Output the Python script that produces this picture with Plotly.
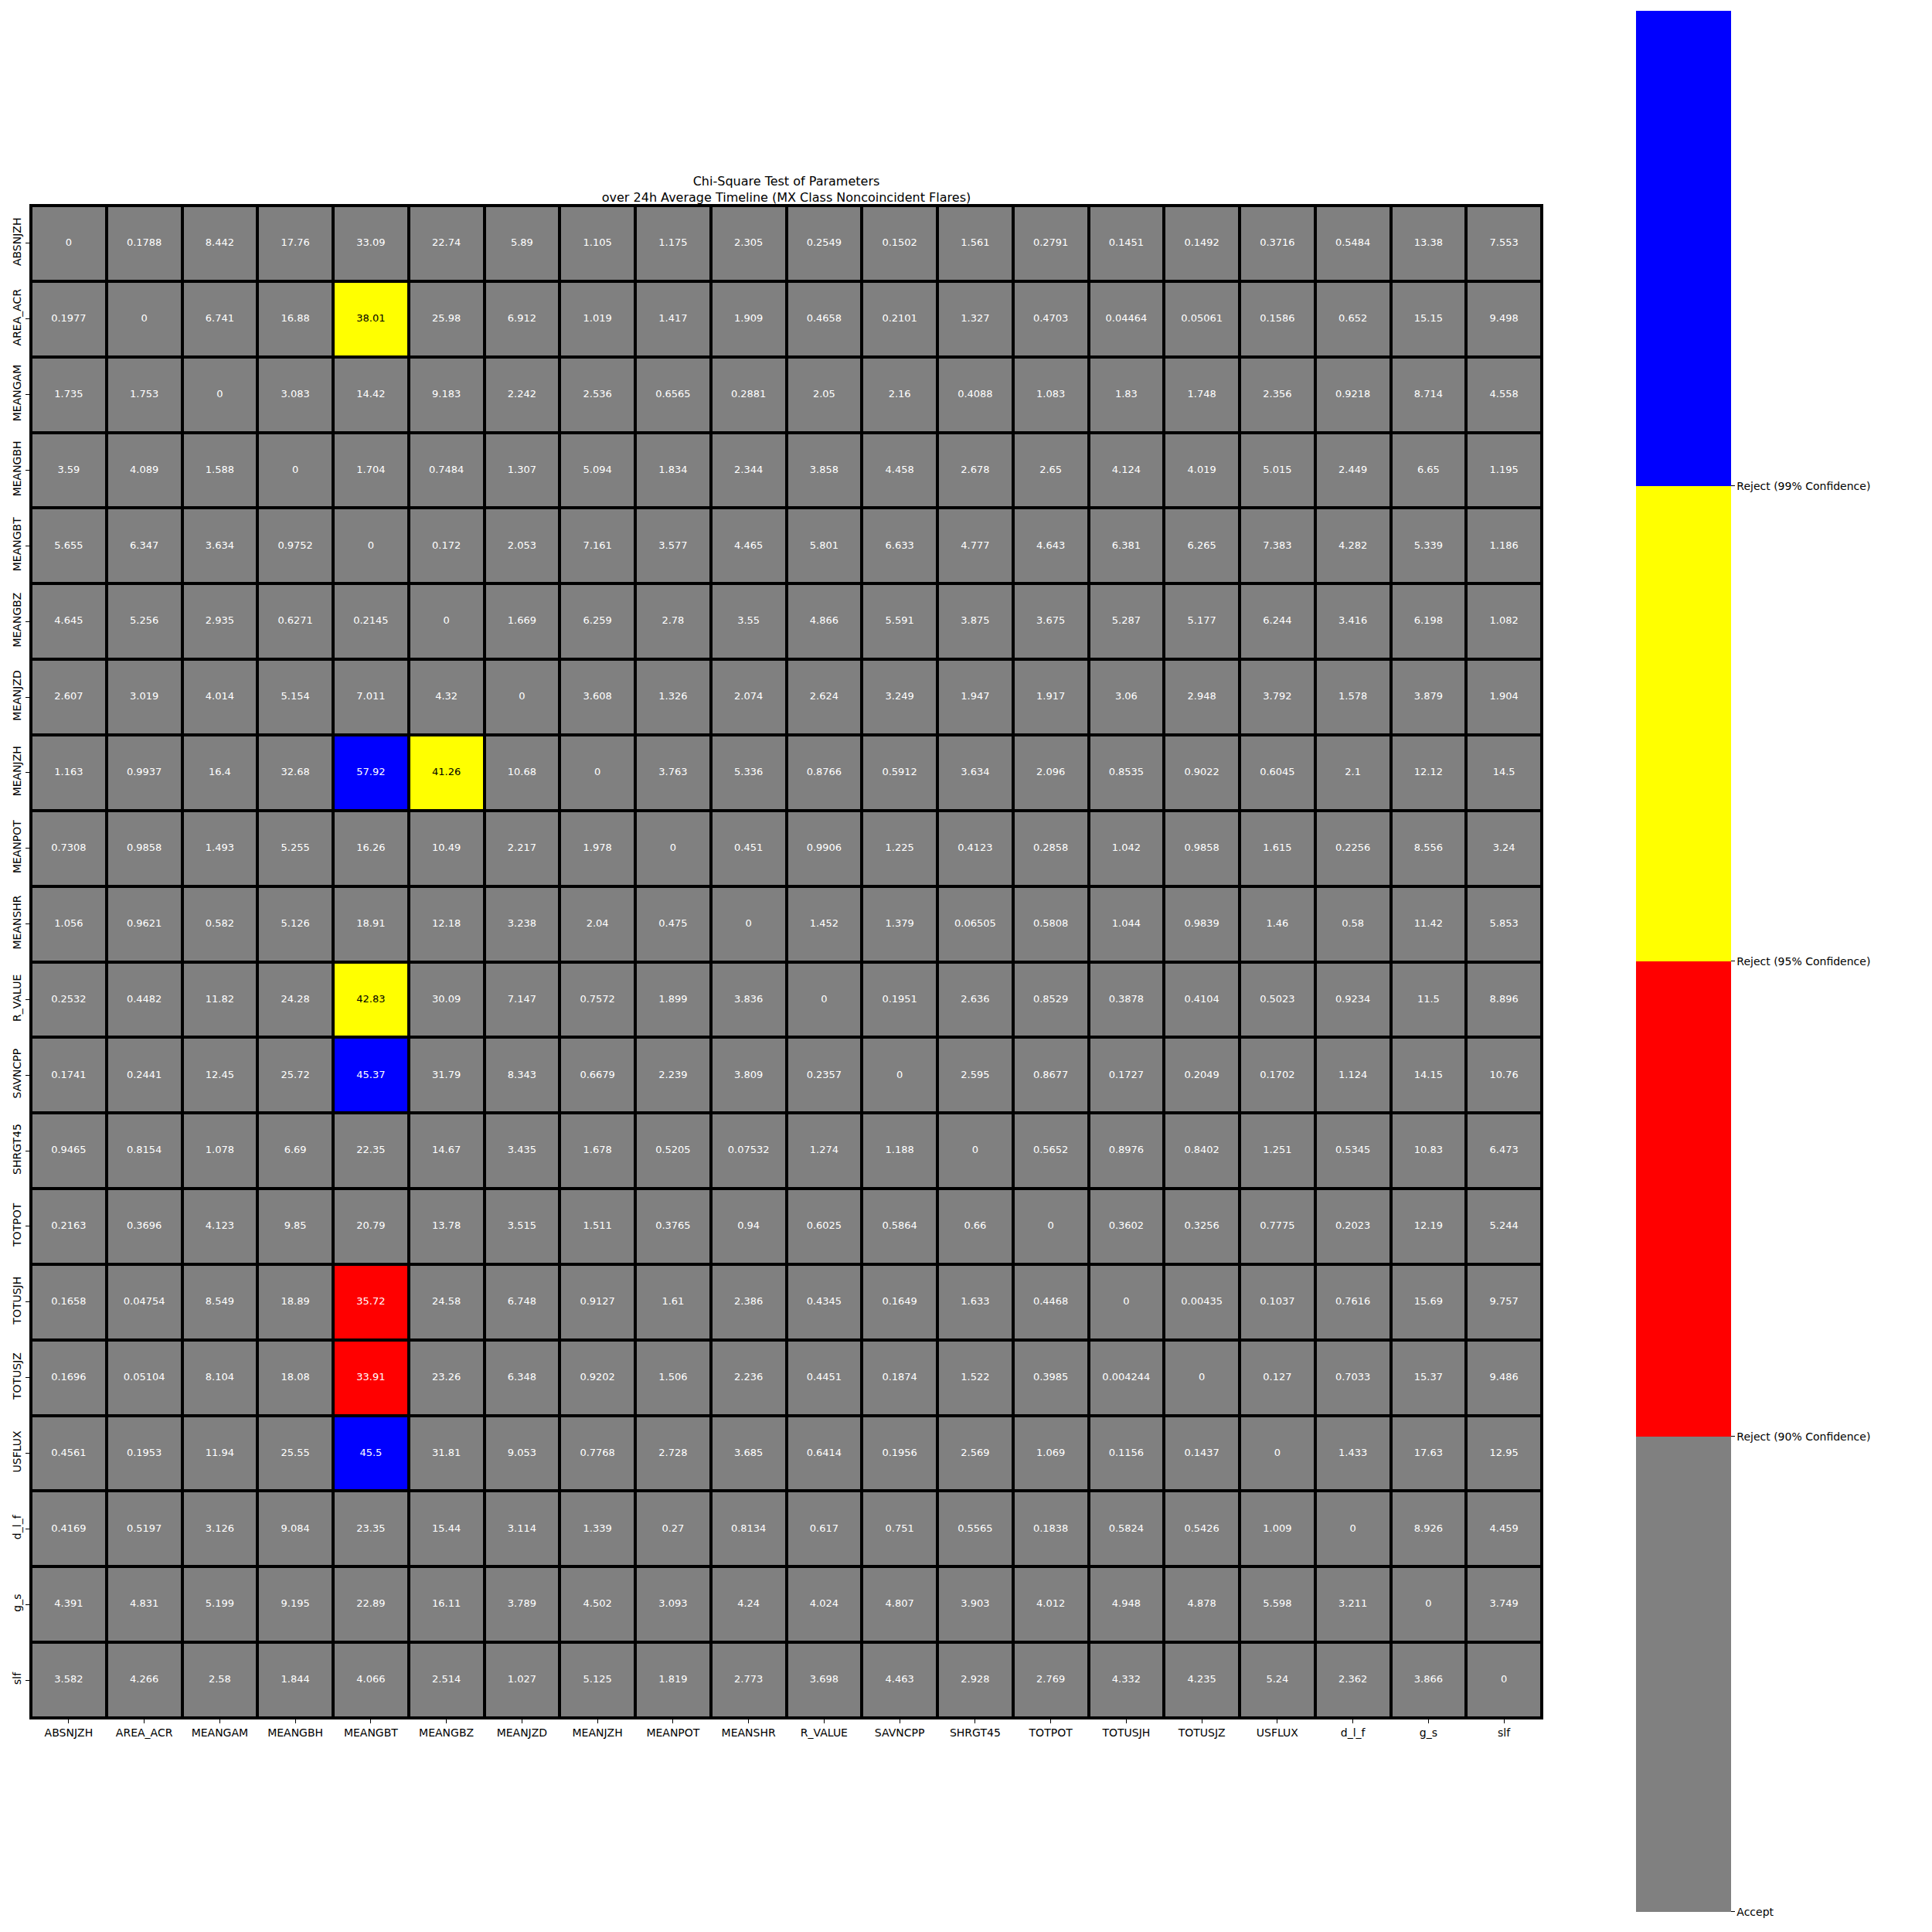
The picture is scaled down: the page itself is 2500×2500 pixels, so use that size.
import plotly.graph_objects as go

params = ["ABSNJZH", "AREA_ACR", "MEANGAM", "MEANGBH", "MEANGBT", "MEANGBZ", "MEANJZD",
          "MEANJZH", "MEANPOT", "MEANSHR", "R_VALUE", "SAVNCPP", "SHRGT45", "TOTPOT",
          "TOTUSJH", "TOTUSJZ", "USFLUX", "d_l_f", "g_s", "slf"]

row_ABSNJZH = [0, 0.1788, 8.442, 17.76, 33.09, 22.74, 5.89, 1.105, 1.175, 2.305, 0.2549, 0.1502, 1.561, 0.2791, 0.1451, 0.1492, 0.3716, 0.5484, 13.38, 7.553]
row_AREA_ACR = [0.1977, 0, 6.741, 16.88, 38.01, 25.98, 6.912, 1.019, 1.417, 1.909, 0.4658, 0.2101, 1.327, 0.4703, 0.04464, 0.05061, 0.1586, 0.652, 15.15, 9.498]
row_MEANGAM = [1.735, 1.753, 0, 3.083, 14.42, 9.183, 2.242, 2.536, 0.6565, 0.2881, 2.05, 2.16, 0.4088, 1.083, 1.83, 1.748, 2.356, 0.9218, 8.714, 4.558]
row_MEANGBH = [3.59, 4.089, 1.588, 0, 1.704, 0.7484, 1.307, 5.094, 1.834, 2.344, 3.858, 4.458, 2.678, 2.65, 4.124, 4.019, 5.015, 2.449, 6.65, 1.195]
row_MEANGBT = [5.655, 6.347, 3.634, 0.9752, 0, 0.172, 2.053, 7.161, 3.577, 4.465, 5.801, 6.633, 4.777, 4.643, 6.381, 6.265, 7.383, 4.282, 5.339, 1.186]
row_MEANGBZ = [4.645, 5.256, 2.935, 0.6271, 0.2145, 0, 1.669, 6.259, 2.78, 3.55, 4.866, 5.591, 3.875, 3.675, 5.287, 5.177, 6.244, 3.416, 6.198, 1.082]
row_MEANJZD = [2.607, 3.019, 4.014, 5.154, 7.011, 4.32, 0, 3.608, 1.326, 2.074, 2.624, 3.249, 1.947, 1.917, 3.06, 2.948, 3.792, 1.578, 3.879, 1.904]
row_MEANJZH = [1.163, 0.9937, 16.4, 32.68, 57.92, 41.26, 10.68, 0, 3.763, 5.336, 0.8766, 0.5912, 3.634, 2.096, 0.8535, 0.9022, 0.6045, 2.1, 12.12, 14.5]
row_MEANPOT = [0.7308, 0.9858, 1.493, 5.255, 16.26, 10.49, 2.217, 1.978, 0, 0.451, 0.9906, 1.225, 0.4123, 0.2858, 1.042, 0.9858, 1.615, 0.2256, 8.556, 3.24]
row_MEANSHR = [1.056, 0.9621, 0.582, 5.126, 18.91, 12.18, 3.238, 2.04, 0.475, 0, 1.452, 1.379, 0.06505, 0.5808, 1.044, 0.9839, 1.46, 0.58, 11.42, 5.853]
row_R_VALUE = [0.2532, 0.4482, 11.82, 24.28, 42.83, 30.09, 7.147, 0.7572, 1.899, 3.836, 0, 0.1951, 2.636, 0.8529, 0.3878, 0.4104, 0.5023, 0.9234, 11.5, 8.896]
row_SAVNCPP = [0.1741, 0.2441, 12.45, 25.72, 45.37, 31.79, 8.343, 0.6679, 2.239, 3.809, 0.2357, 0, 2.595, 0.8677, 0.1727, 0.2049, 0.1702, 1.124, 14.15, 10.76]
row_SHRGT45 = [0.9465, 0.8154, 1.078, 6.69, 22.35, 14.67, 3.435, 1.678, 0.5205, 0.07532, 1.274, 1.188, 0, 0.5652, 0.8976, 0.8402, 1.251, 0.5345, 10.83, 6.473]
row_TOTPOT = [0.2163, 0.3696, 4.123, 9.85, 20.79, 13.78, 3.515, 1.511, 0.3765, 0.94, 0.6025, 0.5864, 0.66, 0, 0.3602, 0.3256, 0.7775, 0.2023, 12.19, 5.244]
row_TOTUSJH = [0.1658, 0.04754, 8.549, 18.89, 35.72, 24.58, 6.748, 0.9127, 1.61, 2.386, 0.4345, 0.1649, 1.633, 0.4468, 0, 0.00435, 0.1037, 0.7616, 15.69, 9.757]
row_TOTUSJZ = [0.1696, 0.05104, 8.104, 18.08, 33.91, 23.26, 6.348, 0.9202, 1.506, 2.236, 0.4451, 0.1874, 1.522, 0.3985, 0.004244, 0, 0.127, 0.7033, 15.37, 9.486]
row_USFLUX = [0.4561, 0.1953, 11.94, 25.55, 45.5, 31.81, 9.053, 0.7768, 2.728, 3.685, 0.6414, 0.1956, 2.569, 1.069, 0.1156, 0.1437, 0, 1.433, 17.63, 12.95]
row_d_l_f = [0.4169, 0.5197, 3.126, 9.084, 23.35, 15.44, 3.114, 1.339, 0.27, 0.8134, 0.617, 0.751, 0.5565, 0.1838, 0.5824, 0.5426, 1.009, 0, 8.926, 4.459]
row_g_s = [4.391, 4.831, 5.199, 9.195, 22.89, 16.11, 3.789, 4.502, 3.093, 4.24, 4.024, 4.807, 3.903, 4.012, 4.948, 4.878, 5.598, 3.211, 0, 3.749]
row_slf = [3.582, 4.266, 2.58, 1.844, 4.066, 2.514, 1.027, 5.125, 1.819, 2.773, 3.698, 4.463, 2.928, 2.769, 4.332, 4.235, 5.24, 2.362, 3.866, 0]

matrix = [row_ABSNJZH, row_AREA_ACR, row_MEANGAM, row_MEANGBH, row_MEANGBT, row_MEANGBZ,
          row_MEANJZD, row_MEANJZH, row_MEANPOT, row_MEANSHR, row_R_VALUE, row_SAVNCPP,
          row_SHRGT45, row_TOTPOT, row_TOTUSJH, row_TOTUSJZ, row_USFLUX, row_d_l_f,
          row_g_s, row_slf]

# chi-square critical values (df = 24) at 90%, 95%, 99%
critical_values = [33.196, 36.415, 42.980]
level_labels = ["Accept", "Reject (90% Confidence)", "Reject (95% Confidence)", "Reject (99% Confidence)"]
level_colors = ["#808080", "#ff0000", "#ffff00", "#0000ff"]
text_colors = ["white", "white", "black", "white"]


def level(v):
    return sum(1 for c in critical_values if v > c)


z = [[level(v) + 0.5 for v in row] for row in matrix]

colorscale = []
n = len(level_colors)
for i, c in enumerate(level_colors):
    colorscale.append([i / n, c])
    colorscale.append([(i + 1) / n, c])

FONT = "DejaVu Sans"

fig = go.Figure()
fig.add_trace(go.Heatmap(
    z=z, x=params, y=params,
    colorscale=colorscale, zmin=0, zmax=n,
    xgap=4, ygap=4,
    hoverinfo="skip",
    colorbar=dict(
        tickvals=[0, 1, 2, 3], ticktext=level_labels,
        ticks="outside", ticklen=5, tickwidth=1, tickcolor="black",
        tickfont=dict(family=FONT, size=14, color="black"),
        outlinewidth=0,
        thicknessmode="pixels", thickness=123,
        lenmode="pixels", len=2460,
        x=1.0624, xanchor="left", xpad=0,
        y=0.5003, yanchor="middle", ypad=0,
    ),
))

tx, ty, tt, tc = [], [], [], []
for i, rname in enumerate(params):
    for j, cname in enumerate(params):
        v = matrix[i][j]
        tx.append(cname)
        ty.append(rname)
        tt.append(format(v, ".4g"))
        tc.append(text_colors[level(v)])

fig.add_trace(go.Scatter(
    x=tx, y=ty, text=tt, mode="text",
    textfont=dict(family=FONT, size=13, color=tc),
    hoverinfo="skip", showlegend=False, cliponaxis=False,
))

ncat = len(params)
fig.update_layout(
    width=2500, height=2500,
    margin=dict(l=40, r=505, t=266, b=277, autoexpand=False),
    paper_bgcolor="white", plot_bgcolor="black",
    font=dict(family=FONT, color="black"),
    title=dict(
        text="Chi-Square Test of Parameters<br>over 24h Average Timeline (MX Class Noncoincident Flares)",
        x=(40 + 1995) / 2 / 2500, xanchor="center",
        y=1 - 240 / 2500, yanchor="middle",
        font=dict(family=FONT, size=16, color="black"),
    ),
    showlegend=False,
)
fig.update_xaxes(
    type="category", categoryorder="array", categoryarray=params,
    range=[-0.5, ncat - 0.5], autorange=False,
    ticks="outside", ticklen=5, tickcolor="black", tickangle=0,
    tickfont=dict(family=FONT, size=14, color="black"),
    showgrid=False, zeroline=False,
    showline=True, mirror=True, linecolor="black", linewidth=2,
)
fig.update_yaxes(
    type="category", categoryorder="array", categoryarray=params,
    range=[ncat - 0.5, -0.5], autorange=False,
    ticks="outside", ticklen=5, tickcolor="black", tickangle=-90,
    tickfont=dict(family=FONT, size=14, color="black"),
    showgrid=False, zeroline=False,
    showline=True, mirror=True, linecolor="black", linewidth=2,
)

fig.write_html("out.html")
